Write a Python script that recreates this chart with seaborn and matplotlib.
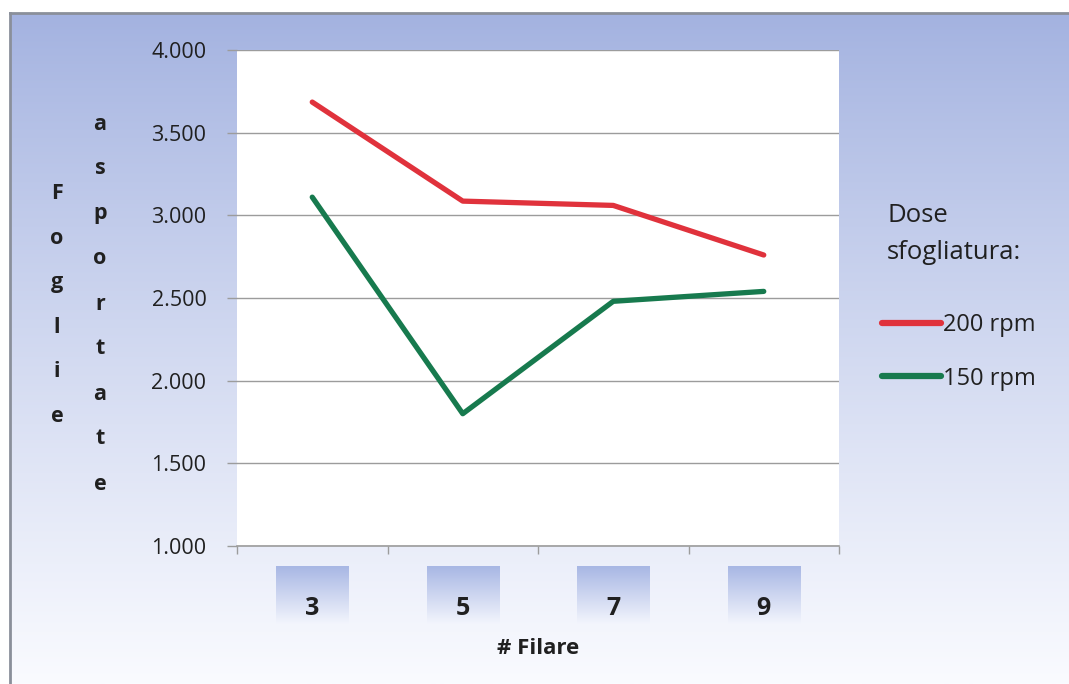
import numpy as np
import pandas as pd
import seaborn as sns
import matplotlib.pyplot as plt
from matplotlib.ticker import FixedLocator, FuncFormatter
from matplotlib.transforms import blended_transform_factory
from matplotlib.lines import Line2D

# Data: leaves removed per number of rows, for two defoliation speeds
filare = ["3", "5", "7", "9"]
rpm_200 = [3685, 3086, 3060, 2760]
rpm_150 = [3110, 1800, 2480, 2540]
series_labels = ["200 rpm", "150 rpm"]
y_ticks = [1000, 1500, 2000, 2500, 3000, 3500, 4000]

df = pd.DataFrame({
    "Filare": filare * 2,
    "Foglie": rpm_200 + rpm_150,
    "Dose": [series_labels[0]] * len(filare) + [series_labels[1]] * len(filare),
})

RED = "#E0323C"
GREEN = "#177A4E"
TXT = "#202020"
GRID = "#9C9C9C"

sns.set_theme(style="white")
plt.rcParams["font.family"] = ["Open Sans", "DejaVu Sans"]

W, H = 1069, 684
fig = plt.figure(figsize=(W / 100, H / 100), dpi=100)
fig.patch.set_facecolor("white")

# Chart background: vertical blue-to-white gradient with a thin frame
bg = fig.add_axes([10 / W, 0, 1 - 10 / W, 1 - 13 / H], zorder=0)
top_c = np.array([163, 178, 224]) / 255
bot_c = np.array([250, 251, 255]) / 255
t = np.linspace(0, 1, 256) ** 0.9
grad = top_c[None, None, :] * (1 - t[:, None, None]) + bot_c[None, None, :] * t[:, None, None]
bg.imshow(grad, aspect="auto", extent=[0, 1, 0, 1], interpolation="bilinear")
bg.set_xticks([])
bg.set_yticks([])
for side in ["right", "bottom"]:
    bg.spines[side].set_visible(False)
for side in ["left", "top"]:
    bg.spines[side].set_color("#8A8F9A")
    bg.spines[side].set_linewidth(2)

# Plot area
ax = fig.add_axes([237 / W, 1 - 546 / H, (839 - 237) / W, (546 - 50) / H], zorder=1)
ax.set_facecolor("white")

sns.lineplot(data=df, x="Filare", y="Foglie", hue="Dose",
             palette=[RED, GREEN], linewidth=3.8, sort=False,
             legend=False, ax=ax)

# Gradient boxes behind the category labels
trans = blended_transform_factory(ax.transData, ax.transAxes)
box_top = np.array([168, 183, 228]) / 255
box_bot = np.array([244, 246, 253]) / 255
tb = np.linspace(0, 1, 64)
box_grad = box_top[None, None, :] * (1 - tb[:, None, None]) + box_bot[None, None, :] * tb[:, None, None]
for i in range(len(filare)):
    ax.imshow(box_grad, extent=[i - 0.24, i + 0.24, -0.159, -0.042],
              transform=trans, aspect="auto", clip_on=False,
              interpolation="bilinear", zorder=0)

ax.set_xlim(-0.5, len(filare) - 0.5)
ax.set_ylim(y_ticks[0], y_ticks[-1])

# Y axis: Italian thousands separator
ax.yaxis.set_major_locator(FixedLocator(y_ticks))
ax.yaxis.set_major_formatter(FuncFormatter(lambda v, p: f"{int(v):,}".replace(",", ".")))
ax.tick_params(axis="y", which="major", left=True, length=7, width=1, color=GRID,
               pad=15, labelsize=15.5, labelcolor=TXT)
ax.yaxis.grid(True, color=GRID, linewidth=1)
ax.set_axisbelow(True)
for tk in ax.yaxis.get_major_ticks():
    if tk.get_loc() == y_ticks[-1]:
        tk.gridline.set_visible(False)

# X axis: labels at category centres, tick marks between categories
ax.set_xticks(range(len(filare)))
ax.set_xticklabels(filare)
ax.xaxis.set_minor_locator(FixedLocator(np.arange(-0.5, len(filare), 1.0)))
ax.tick_params(axis="x", which="major", bottom=False, length=0, pad=36,
               labelsize=18, labelcolor=TXT)
for lbl in ax.get_xticklabels():
    lbl.set_fontweight("bold")
ax.tick_params(axis="x", which="minor", bottom=True, length=6, width=1, color=GRID)

for side in ["left", "top", "right"]:
    ax.spines[side].set_visible(False)
ax.spines["bottom"].set_color(GRID)
ax.spines["bottom"].set_linewidth(1.2)

ax.set_xlabel("# Filare", fontsize=16, fontweight="bold", color=TXT)
ax.xaxis.set_label_coords(0.5, (546 - 648) / 496)
ax.xaxis.label.set_va("center")
ax.set_ylabel("")

# Stacked-letter y axis title
fig.text(57 / W, 1 - 305 / H, "\n".join("Foglie"), ha="center", va="center",
         fontsize=15.5, fontweight="bold", color=TXT, linespacing=2.47)
fig.text(100 / W, 1 - 304 / H, "\n".join("asportate"), ha="center", va="center",
         fontsize=15.5, fontweight="bold", color=TXT, linespacing=2.5)

# Legend
fig.text(887 / W, 1 - 234 / H, "Dose\nsfogliatura:", ha="left", va="center",
         fontsize=18.5, color=TXT, linespacing=1.62)
handles = [Line2D([], [], color=RED, linewidth=4.5),
           Line2D([], [], color=GREEN, linewidth=4.5)]
ax.legend(handles=handles, labels=series_labels, loc="center left",
          bbox_to_anchor=(882 / W, 1 - 352 / H), bbox_transform=fig.transFigure,
          frameon=False, fontsize=17, handlelength=2.5, handletextpad=0.1,
          labelspacing=1.25, borderpad=0, borderaxespad=0, labelcolor=TXT)

fig.savefig("out.png", dpi=100)
